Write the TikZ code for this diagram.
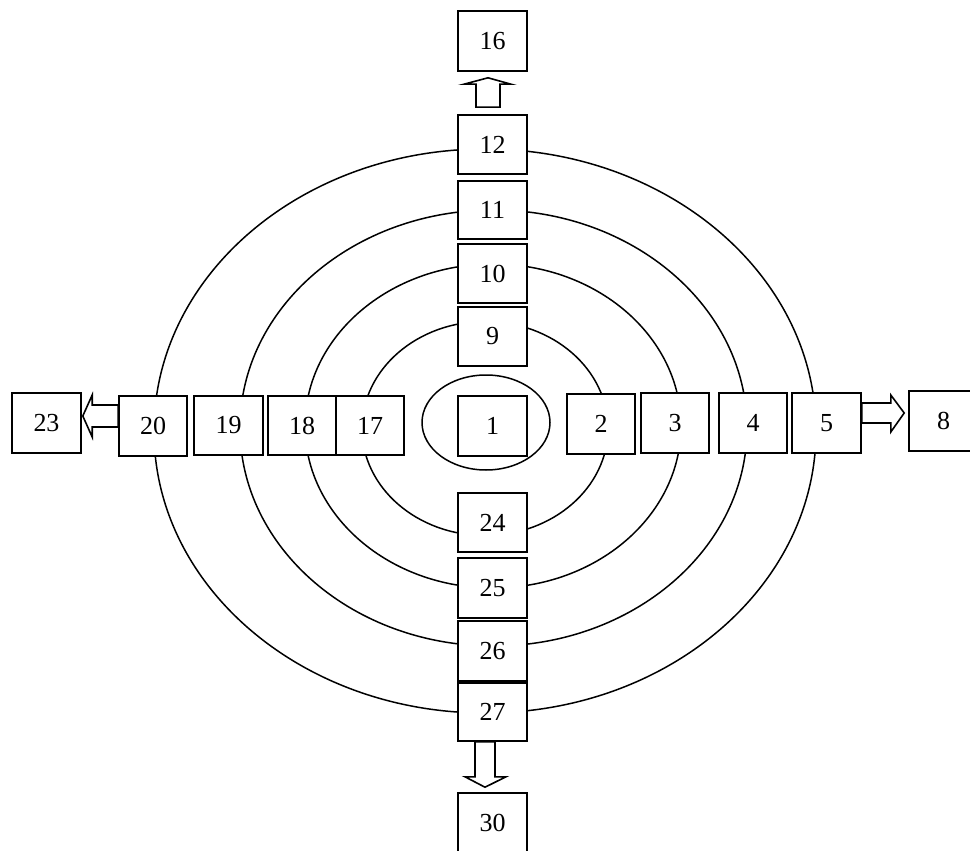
\documentclass[tikz,border=0pt]{standalone}
\usepackage{fontspec}
\setmainfont{Liberation Serif}
\usetikzlibrary{calc,shapes.geometric}
\begin{document}
\begin{tikzpicture}[x=1pt,y=-1pt,
  box/.style={draw=black, line width=1.6pt, fill=white, inner sep=0pt,
    minimum width=69pt, minimum height=60pt, font=\fontsize{26}{30}\selectfont},
  ring/.style={draw=black, line width=1.5pt},
  blockarrow/.style={draw=black, line width=1.6pt, fill=white, line join=miter}]
\useasboundingbox (0,0) rectangle (970,851);
\clip (0,0) rectangle (970,851);
% rings
\draw[ring] (485,431) ellipse [x radius=331, y radius=282];
\draw[ring] (493.5,428) ellipse [x radius=253.5, y radius=218];
\draw[ring] (493,426) ellipse [x radius=188, y radius=162];
\draw[ring] (485,428.5) ellipse [x radius=123, y radius=107];
% vertical column
\node[box] (b16) at (492.5,41) {16};
\node[box, minimum height=59pt] (b12) at (492.5,144.5) {12};
\node[box, minimum height=58pt] (b11) at (492.5,210) {11};
\node[box, minimum height=59pt] (b10) at (492.5,273.5) {10};
\node[box, minimum height=59pt] (b9) at (492.5,336.5) {9};
\node[box] (b1) at (492.5,426) {1};
\node[box, minimum height=59pt] (b24) at (492.5,522.5) {24};
\node[box] (b25) at (492.5,588) {25};
\node[box] (b26) at (492.5,651) {26};
\node[box, minimum height=58pt] (b27) at (492.5,712) {27};
\node[box] (b30) at (492.5,823) {30};
% right row
\node[box, minimum width=68pt] (b2) at (601,424) {2};
\node[box, minimum width=68pt] (b3) at (675,423) {3};
\node[box, minimum width=68pt] (b4) at (753,423) {4};
\node[box] (b5) at (826.5,423) {5};
\node[box] (b8) at (943.5,421) {8};
% left row
\node[box, minimum width=68pt, minimum height=59pt] (b17) at (370,425.5) {17};
\node[box, minimum width=68pt, minimum height=59pt] (b18) at (302,425.5) {18};
\node[box, minimum height=59pt] (b19) at (228.5,425.5) {19};
\node[box, minimum width=68pt] (b20) at (153,426) {20};
\node[box] (b23) at (46.5,423) {23};
% centre ellipse
\node[ellipse, draw=black, line width=1.5pt, minimum width=128pt, minimum height=95pt, inner sep=0pt] (e1) at (486,422.5) {};
% block arrows
\draw[blockarrow] ($(b12.north)+(-16.5,-7)$) -- ++(0,-23) -- ++(-12,0) -- ($(b16.south)+(-4.5,6)$)
  -- ($(b12.north)+(18.5,-30)$) -- ++(-11,0) -- ++(0,23) -- cycle;
\draw[blockarrow] ($(b27.south)+(-17.5,0)$) -- ++(0,35) -- ++(-10,0) -- ($(b30.north)+(-7.5,-5)$)
  -- ($(b27.south)+(13.5,35)$) -- ++(-11,0) -- ++(0,-35) -- cycle;
\draw[blockarrow] ($(b20.west)+(0,-21)$) -- ++(-26,0) -- ++(0,-10) -- ($(b23.east)+(1,-7)$)
  -- ($(b20.west)+(-26,11)$) -- ++(0,-10) -- ++(26,0) -- cycle;
\draw[blockarrow] ($(b5.east)+(0,-20)$) -- ++(29,0) -- ++(0,-8) -- ($(b8.west)+(-4,-8)$)
  -- ($(b5.east)+(29,9)$) -- ++(0,-9) -- ++(-29,0) -- cycle;
\end{tikzpicture}
\end{document}
